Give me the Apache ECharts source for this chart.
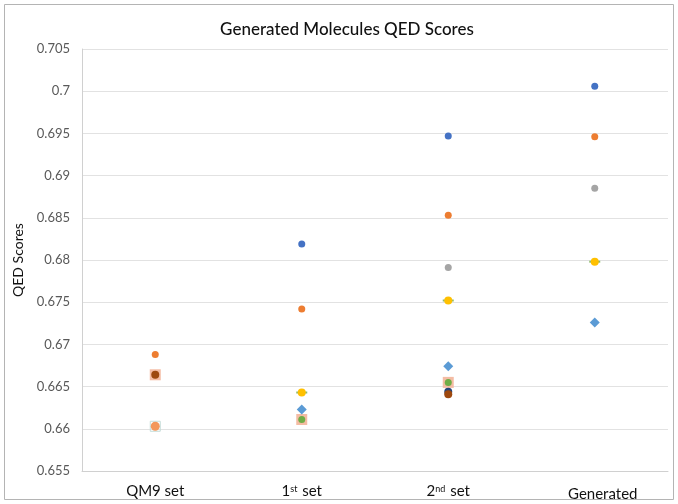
<!DOCTYPE html>
<html>
<head>
<meta charset="utf-8">
<script src="https://cdn.jsdelivr.net/npm/echarts@6/dist/echarts.min.js"></script>
<style>
  html, body { margin: 0; padding: 0; background: #fff; }
  #main { width: 678px; height: 504px; }
</style>
</head>
<body>
<div id="main"></div>
<script>
var chartDom = document.getElementById('main');
var myChart = echarts.init(chartDom);
var option;

// categories on x
var categories = ['QM9 set', '1st set', '2nd set', 'Generated'];
// y axis ticks
var yMin = 0.655, yMax = 0.705, yStep = 0.005;

// QED scores per series (null = no point)
var blueScores     = [null,   0.6819, 0.6947, 0.7006];
var orangeScores   = [0.6688, 0.6742, 0.6853, 0.6946];
var grayScores     = [null,   null,   0.6791, 0.6885];
var goldScores     = [null,   0.6643, 0.6752, 0.6798];
var diamondScores  = [null,   0.6623, 0.6674, 0.6726];
var squareScores   = [0.6664, 0.6611, 0.6655, null];
var greenScores    = [null,   0.6611, 0.6655, null];
var navyScores     = [null,   null,   0.6644, null];
var brownScores    = [0.6664, null,   0.6641, null];
var outlineScores  = [0.6603, null,   null,   null];
var peachScores    = [0.6603, null,   null,   null];

function pts(arr) {
    return arr.map(function (v, i) { return v == null ? null : [categories[i], v]; }).filter(function (d) { return d; });
}

function sc(name, arr, symbol, size, color, extra) {
    var s = {
        name: name,
        type: 'scatter',
        data: pts(arr),
        symbol: symbol,
        symbolSize: size,
        itemStyle: { color: color, opacity: 1 },
        emphasis: { disabled: true },
        silent: true
    };
    if (extra) Object.assign(s.itemStyle, extra);
    return s;
}

option = {
    backgroundColor: '#fff',
    animation: false,
    textStyle: { fontFamily: 'Lato' },
    title: {
        text: 'Generated Molecules QED Scores',
        left: 342,
        textAlign: 'center',
        top: 16,
        textStyle: { fontFamily: 'Lato', fontSize: 17, fontWeight: 500, color: '#111' }
    },
    graphic: [{
        type: 'rect',
        shape: { x: 4.5, y: 4.5, width: 669, height: 495 },
        style: { fill: 'none', stroke: '#b4b4b4', lineWidth: 1 },
        silent: true
    }],
    grid: { left: 82, right: 10, top: 49, bottom: 33, containLabel: false },
    xAxis: {
        type: 'category',
        data: categories,
        boundaryGap: true,
        axisLine: { lineStyle: { color: '#d0d0d0' } },
        axisTick: { show: false },
        splitLine: { show: false },
        axisLabel: {
            margin: 11,
            color: '#111',
            fontSize: 15,
            formatter: function (v) {
                if (v === '1st set') return '{a|1}{s|st}{a| set}';
                if (v === '2nd set') return '{a|2}{s|nd}{a| set}';
                if (v === 'Generated') return '{g|Generated}';
                return '{a|' + v + '}';
            },
            rich: {
                a: { fontSize: 15, color: '#111', lineHeight: 18 },
                s: { fontSize: 9, color: '#111', verticalAlign: 'top', lineHeight: 14, padding: [3, 1, 0, 0] },
                g: { fontSize: 15, color: '#111', lineHeight: 18, padding: [6, 0, 0, 16] }
            }
        }
    },
    yAxis: {
        type: 'value',
        min: yMin,
        max: yMax,
        interval: yStep,
        name: 'QED Scores',
        nameLocation: 'middle',
        nameGap: 52,
        nameTextStyle: { fontSize: 14, color: '#111' },
        axisLine: { show: true, lineStyle: { color: '#d0d0d0' } },
        axisTick: { show: false },
        axisLabel: {
            color: '#595959',
            fontSize: 13,
            margin: 12,
            formatter: function (v) { return String(parseFloat(v.toFixed(3))); }
        },
        splitLine: { lineStyle: { color: '#e2e2e2', width: 1 } }
    },
    series: [
        sc('Series 6', squareScores, 'rect', 11, '#f4bca4'),
        sc('Series 10', outlineScores, 'rect', 10, 'rgba(0,0,0,0)', { borderColor: '#c4dcd8', borderWidth: 1 }),
        sc('Series 11', peachScores, 'circle', 9, '#f3975a'),
        sc('Series 7', greenScores, 'circle', 7, '#70ad47'),
        sc('Series 8', navyScores, 'circle', 8, '#264478'),
        sc('Series 9', brownScores, 'circle', 8, '#9e480e'),
        sc('Series 4 dash', goldScores, 'rect', [11, 2], '#8dbb6a'),
        sc('Series 4', goldScores, 'circle', 8, '#ffc000'),
        sc('Series 5', diamondScores, 'diamond', 10, '#5b9bd5'),
        sc('Series 3', grayScores, 'circle', 7, '#a5a5a5'),
        sc('Series 2', orangeScores, 'circle', 7, '#ed7d31'),
        sc('Series 1', blueScores, 'circle', 7, '#4472c4')
    ]
};

myChart.setOption(option);
</script>
</body>
</html>
